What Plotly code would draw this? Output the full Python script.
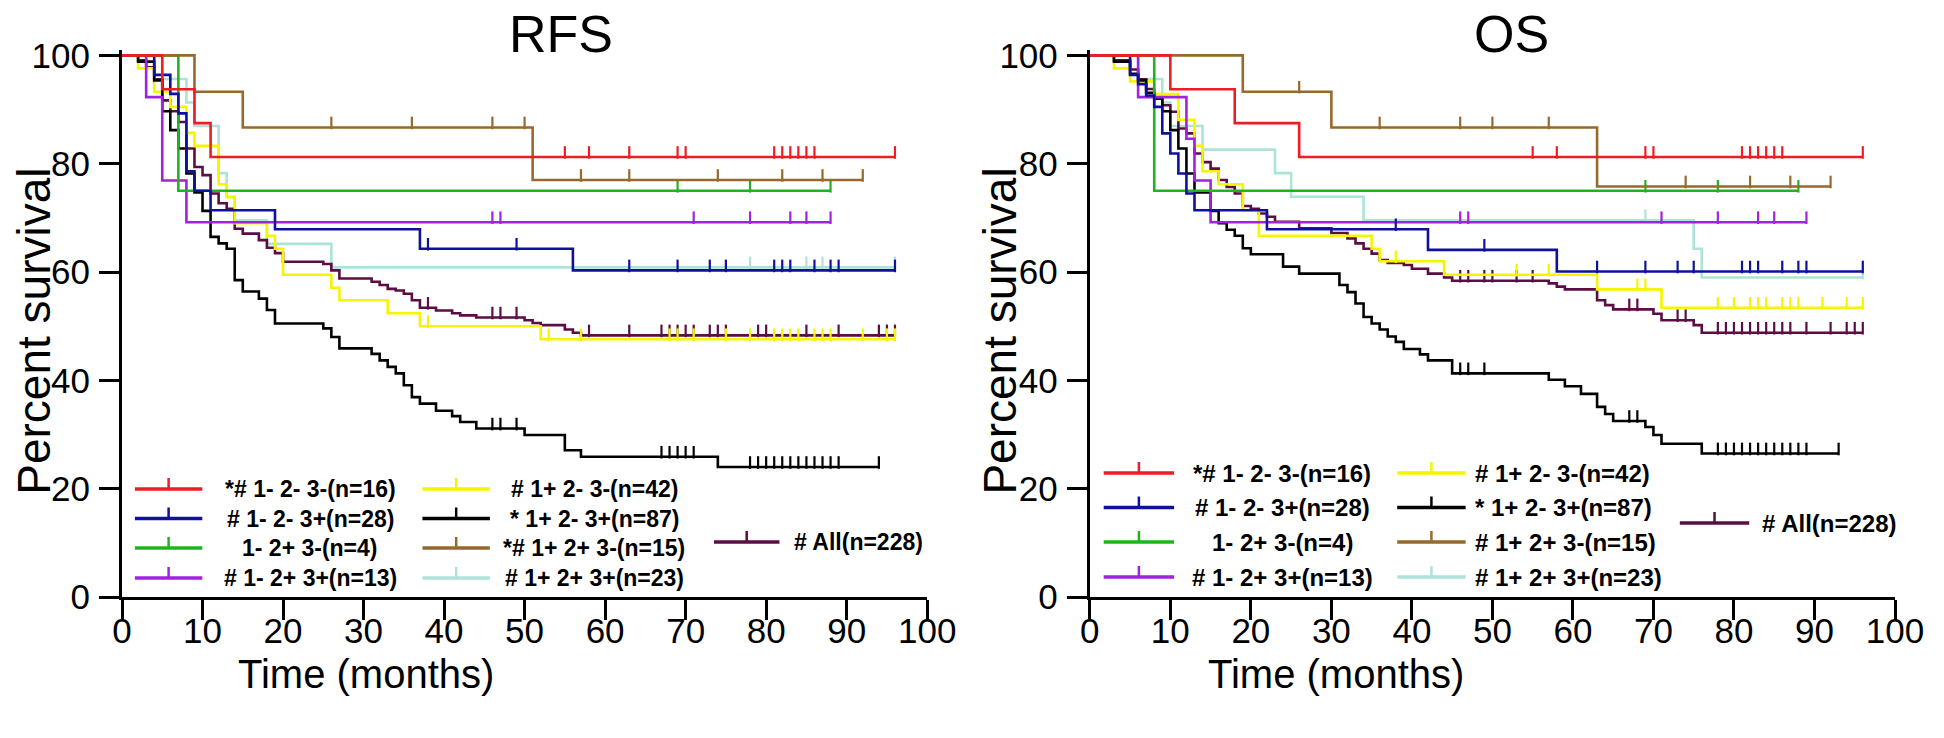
import plotly.graph_objects as go

# ---------------- data ----------------
# each curve: step times, survival after each step (%), censor times

# RFS
RFS_RED_T = [5, 9, 11]
RFS_RED_S = [93.75, 87.5, 81.25]
RFS_RED_C = [55, 58, 63, 69, 70, 81, 82, 83, 84, 85, 86, 96]

RFS_BLUE_T = [4, 6, 7, 8, 9, 11, 19, 37, 56]
RFS_BLUE_S = [96.4, 92.9, 89.3, 78.6, 75.0, 71.4, 67.9, 64.3, 60.3]
RFS_BLUE_C = [38, 49, 63, 69, 73, 75, 81, 82, 83, 86, 88, 89, 96]

RFS_GREEN_T = [7]
RFS_GREEN_S = [75.0]
RFS_GREEN_C = [69, 78, 88]

RFS_PURPLE_T = [3, 5, 8]
RFS_PURPLE_S = [92.3, 76.9, 69.2]
RFS_PURPLE_C = [46, 47, 71, 78, 83, 85, 88]

RFS_YELLOW_T = [2, 4, 6, 8, 9, 12, 13, 14, 18, 19, 20, 26, 27, 33, 37, 52]
RFS_YELLOW_S = [97.6, 93.3, 90.5, 85.7, 83.3, 76.2, 73.8, 69.0, 66.7, 64.3, 59.5,
                57.1, 54.8, 52.4, 50.0, 47.6]
RFS_YELLOW_C = [38, 53, 57, 68, 69, 71, 75, 78, 81, 82, 83, 84, 86, 87, 88, 92, 95, 96]

RFS_BLACK_T = [2, 4, 5, 6, 7, 8, 9, 10, 11, 12, 13, 14, 15, 17, 18, 19, 25, 26, 27,
               31, 32, 33, 34, 35, 36, 37, 39, 41, 42, 44, 50, 55, 57, 74]
RFS_BLACK_S = [98.85, 95.4, 89.7, 86.2, 82.8, 78.2, 74.7, 71.3, 66.5, 65.3, 64.3,
               58.5, 56.4, 55.1, 53.0, 50.5, 49.6, 48.0, 45.9, 44.9, 43.7, 42.5,
               41.3, 39.1, 36.9, 35.7, 34.4, 33.4, 32.3, 31.1, 29.9, 27.1, 25.9, 24.0]
RFS_BLACK_C = [46, 47, 49, 67, 68, 69, 70, 71, 78, 79, 80, 81, 82, 83, 84, 85, 86,
               87, 88, 89, 94]

RFS_BROWN_T = [9, 15, 51]
RFS_BROWN_S = [93.3, 86.7, 77.0]
RFS_BROWN_C = [26, 36, 46, 50, 57, 63, 74, 82, 87, 92]

RFS_CYAN_T = [5, 8, 9, 12, 13, 14, 18, 26]
RFS_CYAN_S = [95.65, 91.3, 86.96, 78.26, 73.9, 69.57, 65.2, 60.87]
RFS_CYAN_C = [78, 85, 87, 96]

RFS_ALL_T = [2, 3, 4, 5, 6, 7, 8, 9, 10, 11, 12, 13, 14, 15, 17, 18, 19, 20, 25,
             26, 27, 31, 32, 33, 34, 35, 36, 37, 39, 41, 42, 44, 50, 51, 52, 55,
             56, 57]
RFS_ALL_S = [99.1, 97.8, 95.6, 91.7, 89.7, 87.7, 82.8, 79.4, 77.9, 74.5, 72.7,
             71.7, 68.0, 67.1, 65.9, 64.5, 63.5, 61.9, 61.5, 60.3, 58.8, 58.2,
             57.6, 56.9, 56.6, 56.0, 54.8, 53.4, 52.9, 52.4, 52.0, 51.6, 51.1,
             50.6, 50.2, 49.4, 48.8, 48.3]
RFS_ALL_C = [38, 46, 47, 49, 58, 63, 67, 68, 69, 70, 71, 73, 74, 75, 79, 80, 85,
             89, 94, 95, 96]

# OS
OS_RED_T = [10, 18, 26]
OS_RED_S = [93.75, 87.5, 81.25]
OS_RED_C = [55, 58, 69, 70, 81, 82, 83, 84, 85, 86, 96]

OS_BLUE_T = [5, 6, 7, 8, 9, 10, 11, 12, 13, 22, 42, 58]
OS_BLUE_S = [96.4, 94.7, 92.6, 90.5, 85.6, 81.9, 78.2, 74.5, 71.4, 67.9, 64.1, 60.1]
OS_BLUE_C = [38, 49, 63, 69, 73, 75, 81, 82, 83, 86, 88, 89, 96]

OS_GREEN_T = [8]
OS_GREEN_S = [75.0]
OS_GREEN_C = [69, 78, 88]

OS_PURPLE_T = [6, 12, 13, 15]
OS_PURPLE_S = [92.3, 84.6, 76.9, 69.2]
OS_PURPLE_C = [46, 47, 71, 78, 83, 85, 89]

OS_YELLOW_T = [3, 5, 8, 11, 13, 14, 16, 19, 21, 35, 36, 44, 63, 71]
OS_YELLOW_S = [97.6, 95.2, 92.86, 88.1, 83.3, 78.6, 76.2, 71.4, 66.7, 64.3, 62.0,
               59.5, 56.8, 53.4]
OS_YELLOW_C = [38, 53, 57, 68, 69, 78, 80, 82, 83, 84, 86, 87, 88, 91, 94, 96]

OS_BLACK_T = [3, 5, 6, 7, 8, 9, 10, 11, 12, 13, 15, 16, 17, 18, 19, 20, 24, 26, 31,
              32, 33, 34, 35, 36, 37, 38, 39, 41, 42, 45, 57, 59, 61, 63, 64, 65,
              69, 70, 71, 76]
OS_BLACK_S = [98.85, 96.6, 95.4, 93.1, 92.0, 89.7, 86.2, 82.8, 78.2, 74.7, 71.3,
              69.0, 67.8, 66.7, 64.4, 63.3, 61.0, 59.7, 57.6, 56.3, 54.2, 51.7,
              50.5, 49.4, 48.1, 47.1, 45.8, 44.8, 43.7, 41.3, 40.1, 38.9, 37.5,
              35.1, 33.8, 32.5, 31.4, 29.9, 28.3, 26.5]
OS_BLACK_C = [46, 47, 49, 67, 68, 78, 79, 80, 81, 82, 83, 84, 85, 86, 87, 88, 89, 93]

OS_BROWN_T = [19, 30, 63]
OS_BROWN_S = [93.3, 86.7, 75.8]
OS_BROWN_C = [26, 36, 46, 50, 57, 74, 82, 87, 92]

OS_CYAN_T = [6, 9, 10, 14, 23, 25, 34, 75, 76]
OS_CYAN_S = [95.65, 91.3, 86.96, 82.6, 78.26, 73.9, 69.57, 64.3, 59.0]
OS_CYAN_C = [69, 96]

OS_ALL_T = [3, 5, 6, 7, 8, 9, 10, 11, 12, 13, 14, 15, 16, 17, 18, 19, 20, 21, 22,
            23, 26, 30, 32, 33, 34, 35, 36, 37, 39, 40, 42, 44, 45, 57, 58, 59,
            63, 64, 65, 70, 71, 75, 76]
OS_ALL_S = [99.1, 97.4, 95.6, 93.8, 92.1, 90.8, 89.6, 86.5, 85.6, 81.9, 80.3,
            79.1, 77.0, 75.7, 74.5, 72.2, 71.7, 70.8, 70.2, 69.3, 68.1, 67.2,
            66.2, 65.3, 64.3, 63.4, 62.2, 61.7, 61.3, 60.6, 59.7, 59.0, 58.4,
            57.9, 57.3, 56.8, 54.8, 53.9, 53.1, 52.3, 51.1, 50.2, 48.8]
OS_ALL_C = [46, 47, 49, 50, 53, 55, 67, 68, 73, 74, 78, 79, 80, 81, 82, 83, 84,
            85, 86, 87, 89, 92, 94, 95, 96]

LABELS_RFS = ["*# 1- 2- 3-(n=16)", "# 1- 2- 3+(n=28)", "1- 2+ 3-(n=4)",
              "# 1- 2+ 3+(n=13)", "# 1+ 2- 3-(n=42)", "* 1+ 2- 3+(n=87)",
              "*# 1+ 2+ 3-(n=15)", "# 1+ 2+ 3+(n=23)", "# All(n=228)"]
LABELS_OS = ["*# 1- 2- 3-(n=16)", "# 1- 2- 3+(n=28)", "1- 2+ 3-(n=4)",
             "# 1- 2+ 3+(n=13)", "# 1+ 2- 3-(n=42)", "* 1+ 2- 3+(n=87)",
             "# 1+ 2+ 3-(n=15)", "# 1+ 2+ 3+(n=23)", "# All(n=228)"]

# legend order: red, blue, green, purple | yellow, black, brown, cyan | all
COLORS = ["#ee1c25", "#10109e", "#1fb41f", "#a321e0",
          "#f5f500", "#000000", "#956a2c", "#ade3d9", "#5c0d44"]

RFS = [(RFS_RED_T, RFS_RED_S, RFS_RED_C), (RFS_BLUE_T, RFS_BLUE_S, RFS_BLUE_C),
       (RFS_GREEN_T, RFS_GREEN_S, RFS_GREEN_C), (RFS_PURPLE_T, RFS_PURPLE_S, RFS_PURPLE_C),
       (RFS_YELLOW_T, RFS_YELLOW_S, RFS_YELLOW_C), (RFS_BLACK_T, RFS_BLACK_S, RFS_BLACK_C),
       (RFS_BROWN_T, RFS_BROWN_S, RFS_BROWN_C), (RFS_CYAN_T, RFS_CYAN_S, RFS_CYAN_C),
       (RFS_ALL_T, RFS_ALL_S, RFS_ALL_C)]
OS = [(OS_RED_T, OS_RED_S, OS_RED_C), (OS_BLUE_T, OS_BLUE_S, OS_BLUE_C),
      (OS_GREEN_T, OS_GREEN_S, OS_GREEN_C), (OS_PURPLE_T, OS_PURPLE_S, OS_PURPLE_C),
      (OS_YELLOW_T, OS_YELLOW_S, OS_YELLOW_C), (OS_BLACK_T, OS_BLACK_S, OS_BLACK_C),
      (OS_BROWN_T, OS_BROWN_S, OS_BROWN_C), (OS_CYAN_T, OS_CYAN_S, OS_CYAN_C),
      (OS_ALL_T, OS_ALL_S, OS_ALL_C)]

# drawing order (bottom -> top)
DRAW_ORDER = [7, 8, 4, 5, 3, 2, 1, 6, 0]

# page has an 8px body margin, so the figure is 16px smaller than the window
W, H = 1928, 722
ML, MR, MT, MB = 114, 26, 42, 133
PLOT_L, PLOT_T = ML + 8, MT + 8            # plot area in window pixels
PLOT_W, PLOT_H = W - ML - MR, H - MT - MB
PX_PER_PCT = PLOT_H / 101.0
TICK_PX = 9
LEG_FONT = "Liberation Sans, Arial, sans-serif"
AX_FONT = "Liberation Sans, Arial, sans-serif"


def surv_at(times, surv, t):
    s = 100.0
    for ti, si in zip(times, surv):
        if ti <= t:
            s = si
    return s


fig = go.Figure()

for data, xa, ya in [(RFS, "x", "y"), (OS, "x2", "y2")]:
    for i in DRAW_ORDER:
        times, surv, cens = data[i]
        end = max(cens + times)
        xs = [0] + times + [end]
        ys = [100] + surv + [surv[-1]]
        fig.add_trace(go.Scatter(
            x=xs, y=ys, mode="lines", line=dict(color=COLORS[i], width=2.6, shape="hv"),
            xaxis=xa, yaxis=ya, hoverinfo="skip",
        ))
        off = (TICK_PX / 2) / PX_PER_PCT
        fig.add_trace(go.Scatter(
            x=cens, y=[surv_at(times, surv, c) + off for c in cens], mode="markers",
            marker=dict(symbol="line-ns", size=TICK_PX, line=dict(color=COLORS[i], width=2.2)),
            xaxis=xa, yaxis=ya, hoverinfo="skip", cliponaxis=False,
        ))

# ---------------- manual legends (window pixel positions) ----------------
shapes = []
annotations = []


def px(xp):
    return (xp - PLOT_L) / PLOT_W


def py(yp):
    return (PLOT_T + PLOT_H - yp) / PLOT_H


def legend_entry(x0, x1, y, color, text, tx, anchor, size):
    shapes.append(dict(type="line", xref="paper", yref="paper", x0=px(x0), x1=px(x1),
                       y0=py(y), y1=py(y), line=dict(color=color, width=3.5)))
    xm = (x0 + x1) / 2
    shapes.append(dict(type="line", xref="paper", yref="paper", x0=px(xm), x1=px(xm),
                       y0=py(y), y1=py(y - 11), line=dict(color=color, width=2.5)))
    annotations.append(dict(xref="paper", yref="paper", x=px(tx), y=py(y), text="<b>%s</b>" % text,
                            showarrow=False, xanchor=anchor, yanchor="middle",
                            font=dict(family=LEG_FONT, size=size, color="black")))


# RFS legend
rows = [489, 518.5, 548, 578]
for k in range(4):
    legend_entry(135, 203, rows[k], COLORS[k], LABELS_RFS[k], 312, "center", 23)
    legend_entry(425, 493, rows[k], COLORS[k + 4], LABELS_RFS[k + 4], 598, "center", 23)
legend_entry(719, 785, 542, COLORS[8], LABELS_RFS[8], 798, "left", 23)

# OS legend
rows = [473, 507.5, 542, 577]
for k in range(4):
    legend_entry(1112, 1183, rows[k], COLORS[k], LABELS_OS[k], 1292, "center", 24)
    legend_entry(1408, 1477, rows[k], COLORS[k + 4], LABELS_OS[k + 4], 1484, "left", 24)
legend_entry(1693, 1763, 523, COLORS[8], LABELS_OS[8], 1774, "left", 24)

# titles and axis titles
for txt, xc in [("RFS", 565), ("OS", 1523)]:
    annotations.append(dict(xref="paper", yref="paper", x=px(xc), y=py(34), text=txt,
                            showarrow=False, xanchor="center", yanchor="middle",
                            font=dict(family=AX_FONT, size=52, color="black")))
for xc in [33, 1007]:
    annotations.append(dict(xref="paper", yref="paper", x=px(xc), y=py(331),
                            text="Percent survival", textangle=-90, showarrow=False,
                            xanchor="center", yanchor="middle",
                            font=dict(family=AX_FONT, size=46, color="black")))
for xc in [368, 1346]:
    annotations.append(dict(xref="paper", yref="paper", x=px(xc), y=py(674),
                            text="Time (months)", showarrow=False,
                            xanchor="center", yanchor="middle",
                            font=dict(family=AX_FONT, size=40, color="black")))

axis_common = dict(showline=True, linecolor="black", linewidth=3, ticks="outside",
                   ticklen=20, tickwidth=3, tickcolor="black", showgrid=False,
                   zeroline=False, tickfont=dict(family=AX_FONT, size=35, color="black"))
fig.update_layout(
    width=W, height=H,
    margin=dict(l=ML, r=MR, t=MT, b=MB),
    plot_bgcolor="white", paper_bgcolor="white",
    showlegend=False,
    shapes=shapes, annotations=annotations,
    xaxis=dict(domain=[0, 812 / PLOT_W], range=[0, 100], tickvals=list(range(0, 101, 10)),
               anchor="y", ticklabelstandoff=-19, **axis_common),
    yaxis=dict(domain=[0, 1], range=[0, 101], tickvals=list(range(0, 101, 20)),
               anchor="x", ticklabelstandoff=2, **axis_common),
    xaxis2=dict(domain=[976 / PLOT_W, 1], range=[0, 100], tickvals=list(range(0, 101, 10)),
                anchor="y2", ticklabelstandoff=-19, **axis_common),
    yaxis2=dict(domain=[0, 1], range=[0, 101], tickvals=list(range(0, 101, 20)),
                anchor="x2", ticklabelstandoff=2, **axis_common),
)

fig.write_html("out.html")
